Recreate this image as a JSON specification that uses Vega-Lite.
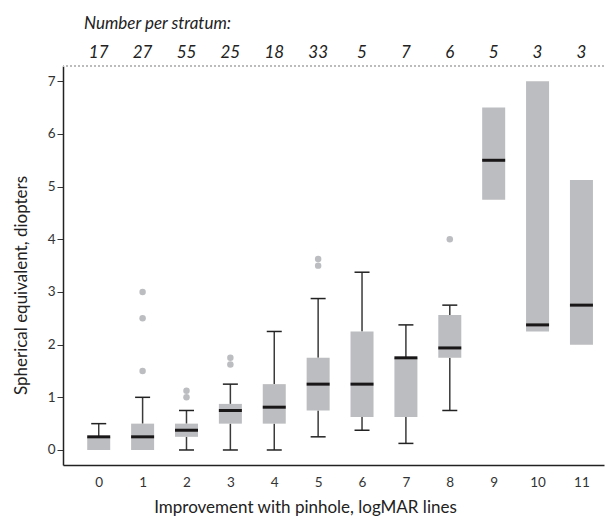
{
  "$schema": "https://vega.github.io/schema/vega-lite/v6.json",
  "width": 541,
  "height": 399,
  "autosize": {"type": "none"},
  "padding": {"left": 63, "top": 66, "right": 2, "bottom": 55},
  "background": "white",
  "title": {
    "text": "Number per stratum:",
    "anchor": "start",
    "frame": "group",
    "dx": 21,
    "offset": 11,
    "fontSize": 17,
    "fontStyle": "italic",
    "fontWeight": "normal",
    "color": "#222222",
    "font": "Lato"
  },
  "config": {
    "view": {"stroke": null},
    "font": "Lato",
    "axis": {
      "grid": false,
      "labelFont": "Lato",
      "titleFont": "Lato",
      "labelFontSize": 13.5,
      "labelColor": "#333333",
      "titleFontSize": 17,
      "titleFontWeight": "normal",
      "titleColor": "#222222",
      "domainColor": "#222222",
      "domainWidth": 1.5,
      "tickColor": "#333333"
    }
  },
  "datasets": {
    "boxes": [
      {"grp": 0, "n": 17, "lo": null, "q1": 0, "med": 0.25, "q3": 0.25, "hi": 0.5},
      {"grp": 1, "n": 27, "lo": null, "q1": 0, "med": 0.25, "q3": 0.5, "hi": 1.0},
      {"grp": 2, "n": 55, "lo": 0, "q1": 0.25, "med": 0.375, "q3": 0.5, "hi": 0.75},
      {"grp": 3, "n": 25, "lo": 0, "q1": 0.5, "med": 0.75, "q3": 0.875, "hi": 1.25},
      {"grp": 4, "n": 18, "lo": 0, "q1": 0.5, "med": 0.8125, "q3": 1.25, "hi": 2.25},
      {"grp": 5, "n": 33, "lo": 0.25, "q1": 0.75, "med": 1.25, "q3": 1.75, "hi": 2.875},
      {"grp": 6, "n": 5, "lo": 0.375, "q1": 0.625, "med": 1.25, "q3": 2.25, "hi": 3.375},
      {"grp": 7, "n": 7, "lo": 0.125, "q1": 0.625, "med": 1.75, "q3": 1.75, "hi": 2.375},
      {"grp": 8, "n": 6, "lo": 0.75, "q1": 1.75, "med": 1.9375, "q3": 2.5625, "hi": 2.75},
      {"grp": 9, "n": 5, "lo": null, "q1": 4.75, "med": 5.5, "q3": 6.5, "hi": null},
      {"grp": 10, "n": 3, "lo": null, "q1": 2.25, "med": 2.375, "q3": 7.0, "hi": null},
      {"grp": 11, "n": 3, "lo": null, "q1": 2.0, "med": 2.75, "q3": 5.125, "hi": null}
    ],
    "outliers": [
      {"grp": 1, "value": 1.5},
      {"grp": 1, "value": 2.5},
      {"grp": 1, "value": 3.0},
      {"grp": 2, "value": 1.0},
      {"grp": 2, "value": 1.125},
      {"grp": 3, "value": 1.625},
      {"grp": 3, "value": 1.75},
      {"grp": 5, "value": 3.5},
      {"grp": 5, "value": 3.625},
      {"grp": 8, "value": 4.0}
    ]
  },
  "layer": [
    {
      "data": {"name": "boxes"},
      "transform": [{"filter": "datum.hi != null"}],
      "mark": {"type": "rule", "color": "#3a3a3a", "strokeWidth": 1.5},
      "encoding": {
        "x": {
          "field": "grp",
          "type": "quantitative",
          "scale": {"domain": [-0.7, 11.4], "nice": false, "zero": false},
          "axis": {
            "values": [0, 1, 2, 3, 4, 5, 6, 7, 8, 9, 10, 11],
            "ticks": false,
            "labelPadding": 10,
            "titlePadding": 11,
            "titleX": 242,
            "title": "Improvement with pinhole, logMAR lines",
            "format": "d"
          }
        },
        "y": {
          "field": "q3",
          "type": "quantitative",
          "scale": {"domain": [-0.285, 7.29], "nice": false, "zero": false},
          "axis": {
            "values": [0, 1, 2, 3, 4, 5, 6, 7],
            "tickSize": 6,
            "labelPadding": 2,
            "titlePadding": 17,
            "titleY": 219,
            "title": "Spherical equivalent, diopters"
          }
        },
        "y2": {"field": "hi"}
      }
    },
    {
      "data": {"name": "boxes"},
      "transform": [{"filter": "datum.lo != null"}],
      "mark": {"type": "rule", "color": "#3a3a3a", "strokeWidth": 1.5},
      "encoding": {
        "x": {"field": "grp", "type": "quantitative"},
        "y": {"field": "lo", "type": "quantitative"},
        "y2": {"field": "q1"}
      }
    },
    {
      "data": {"name": "boxes"},
      "transform": [{"filter": "datum.hi != null"}],
      "mark": {"type": "tick", "orient": "horizontal", "size": 15, "thickness": 1.5, "color": "#222222", "opacity": 1},
      "encoding": {
        "x": {"field": "grp", "type": "quantitative"},
        "y": {"field": "hi", "type": "quantitative"}
      }
    },
    {
      "data": {"name": "boxes"},
      "transform": [{"filter": "datum.lo != null"}],
      "mark": {"type": "tick", "orient": "horizontal", "size": 15, "thickness": 1.5, "color": "#222222", "opacity": 1},
      "encoding": {
        "x": {"field": "grp", "type": "quantitative"},
        "y": {"field": "lo", "type": "quantitative"}
      }
    },
    {
      "data": {"name": "boxes"},
      "mark": {"type": "bar", "size": 23, "color": "#bcbdc0", "opacity": 1},
      "encoding": {
        "x": {"field": "grp", "type": "quantitative"},
        "y": {"field": "q1", "type": "quantitative"},
        "y2": {"field": "q3"}
      }
    },
    {
      "data": {"name": "boxes"},
      "mark": {"type": "tick", "orient": "horizontal", "size": 23, "thickness": 3, "color": "#1a1718", "opacity": 1},
      "encoding": {
        "x": {"field": "grp", "type": "quantitative"},
        "y": {"field": "med", "type": "quantitative"}
      }
    },
    {
      "data": {"name": "outliers"},
      "mark": {"type": "circle", "size": 42, "color": "#bcbdc0", "opacity": 1},
      "encoding": {
        "x": {"field": "grp", "type": "quantitative"},
        "y": {"field": "value", "type": "quantitative"}
      }
    },
    {
      "data": {"name": "boxes"},
      "mark": {"type": "rule", "color": "#bbbbbb", "strokeDash": [2, 2], "strokeWidth": 1},
      "encoding": {
        "y": {"datum": 7.29}
      }
    },
    {
      "data": {"name": "boxes"},
      "mark": {"type": "text", "fontSize": 17, "fontStyle": "italic", "color": "#222222", "baseline": "alphabetic", "clip": false},
      "encoding": {
        "x": {"field": "grp", "type": "quantitative"},
        "y": {"datum": 7.44},
        "text": {"field": "n", "type": "quantitative"}
      }
    }
  ]
}
